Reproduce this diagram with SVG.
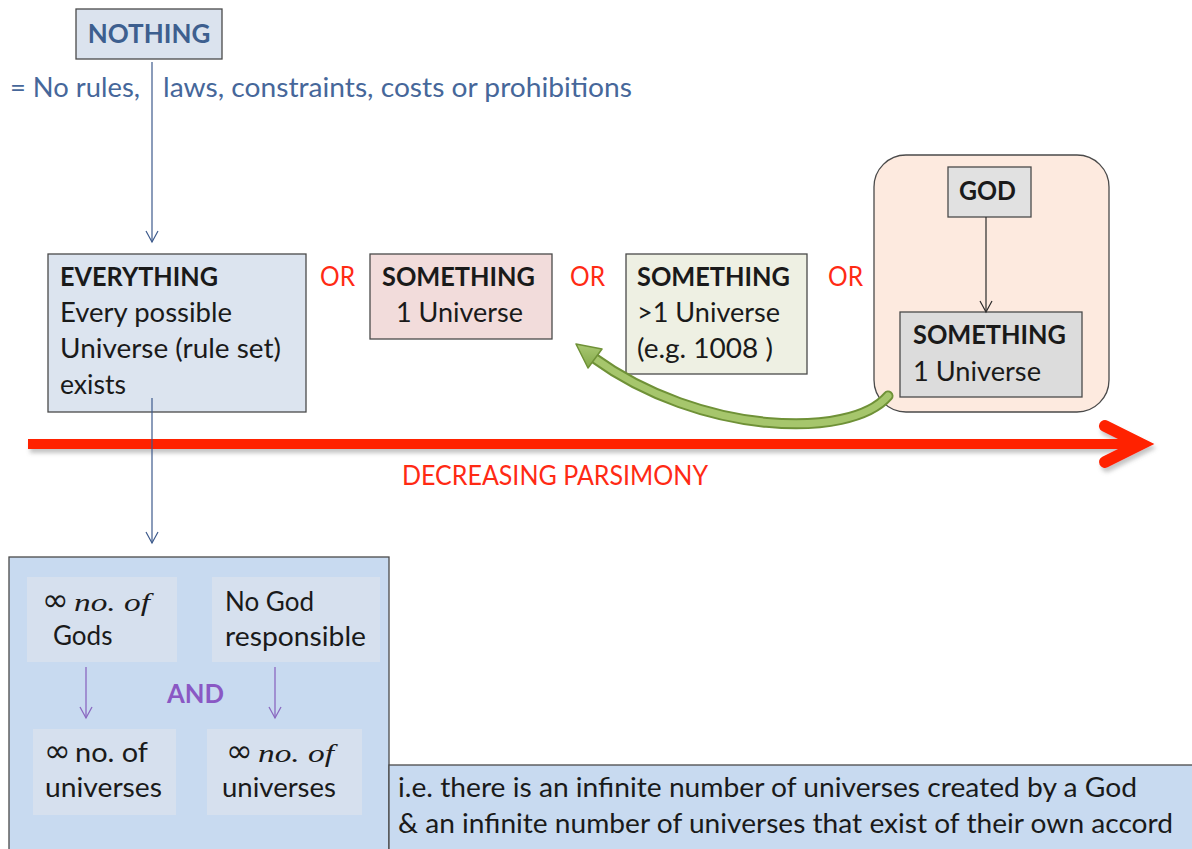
<svg xmlns="http://www.w3.org/2000/svg" width="1192" height="849" viewBox="0 0 1192 849">
  <defs>
    <style>
      .t { font-family: Lato, "Liberation Sans", sans-serif; font-size: 26px; fill: #1a1a1a; }
      .b { font-weight: bold; }
      .blue { fill: #46679a; }
      .red { fill: #ff2a14; }
      .purple { fill: #8a58c4; font-weight: bold; }
      .m { font-family: "Liberation Serif", "DejaVu Serif", serif; font-style: italic; }
      .inf { font-family: "DejaVu Sans", sans-serif; font-size: 32px; }
      .box { stroke: #4a4a4a; stroke-width: 1.3; }
      .conn { stroke: #3d5a8c; stroke-width: 1.2; fill: none; }
      .pconn { stroke: #8a68c0; stroke-width: 1.3; fill: none; }
      .kconn { stroke: #2a2a2a; stroke-width: 1.2; fill: none; }
    </style>
    <filter id="shadow" x="-5%" y="-50%" width="110%" height="200%">
      <feDropShadow dx="2" dy="4" stdDeviation="2.2" flood-color="#7a7a7a" flood-opacity="0.45"/>
    </filter>
    <linearGradient id="green" x1="0" y1="0" x2="0" y2="1">
      <stop offset="0" stop-color="#a9c872"/>
      <stop offset="1" stop-color="#84a94a"/>
    </linearGradient>
  </defs>

  <!-- Red parsimony arrow -->
  <g id="parsimony-arrow" filter="url(#shadow)">
    <line x1="28" y1="444" x2="1136" y2="444" stroke="#ff2200" stroke-width="10"/>
    <polyline points="1105,426 1141,444 1105,462" fill="none" stroke="#ff2200" stroke-width="12" stroke-linecap="round" stroke-linejoin="miter"/>
  </g>
  <text class="t red" x="402" y="485" font-size="25" textLength="306" lengthAdjust="spacingAndGlyphs">DECREASING PARSIMONY</text>

  <!-- NOTHING -->
  <g id="nothing">
    <rect class="box" x="76" y="9" width="146" height="50" fill="#dbe3ee"/>
    <text class="t b" x="149" y="43" text-anchor="middle" style="fill:#3d5f8f" font-size="25">NOTHING</text>
  </g>
  <g id="nothing-desc">
    <text class="t blue" x="10" y="97" textLength="130" lengthAdjust="spacingAndGlyphs">= No rules,</text>
    <text class="t blue" x="163" y="97" textLength="469" lengthAdjust="spacingAndGlyphs">laws, constraints, costs or prohibitions</text>
  </g>

  <!-- EVERYTHING -->
  <g id="everything">
    <rect class="box" x="48" y="254" width="258" height="158" fill="#dce4ef"/>
    <text class="t b" x="60" y="286" textLength="158" lengthAdjust="spacingAndGlyphs">EVERYTHING</text>
    <text class="t" x="60" y="322" textLength="172" lengthAdjust="spacingAndGlyphs">Every possible</text>
    <text class="t" x="60" y="358" textLength="221" lengthAdjust="spacingAndGlyphs">Universe (rule set)</text>
    <text class="t" x="60" y="394" textLength="66" lengthAdjust="spacingAndGlyphs">exists</text>
  </g>

  <g id="or-labels">
    <text class="t red" x="320" y="286" textLength="35" lengthAdjust="spacingAndGlyphs">OR</text>
    <text class="t red" x="570" y="286" textLength="35" lengthAdjust="spacingAndGlyphs">OR</text>
    <text class="t red" x="828" y="286" textLength="35" lengthAdjust="spacingAndGlyphs">OR</text>
  </g>

  <!-- SOMETHING 1 Universe -->
  <g id="something-one">
    <rect class="box" x="370" y="254" width="182" height="85" fill="#f2dcdb"/>
    <text class="t b" x="382" y="286" textLength="153" lengthAdjust="spacingAndGlyphs">SOMETHING</text>
    <text class="t" x="396" y="322" textLength="127" lengthAdjust="spacingAndGlyphs">1 Universe</text>
  </g>

  <!-- SOMETHING >1 Universe -->
  <g id="something-many">
    <rect class="box" x="626" y="254" width="181" height="120" fill="#eef0e3"/>
    <text class="t b" x="637" y="286" textLength="153" lengthAdjust="spacingAndGlyphs">SOMETHING</text>
    <text class="t" x="637" y="322" textLength="143" lengthAdjust="spacingAndGlyphs">&gt;1 Universe</text>
    <text class="t" x="637" y="358" textLength="136" lengthAdjust="spacingAndGlyphs">(e.g. 1008 )</text>
  </g>

  <!-- GOD group -->
  <g id="god-group">
    <rect class="box" x="874" y="155" width="235" height="257" rx="32" ry="32" fill="#fdeadf"/>
  </g>
  <g id="god">
    <rect class="box" x="948" y="167" width="83" height="50" fill="#e1e1e1"/>
    <text class="t b" x="959" y="200" textLength="57" lengthAdjust="spacingAndGlyphs">GOD</text>
  </g>
  <g id="something-god">
    <rect class="box" x="900" y="312" width="182" height="85" fill="#dcdcdc"/>
    <text class="t b" x="913" y="344" textLength="153" lengthAdjust="spacingAndGlyphs">SOMETHING</text>
    <text class="t" x="913" y="381" textLength="128" lengthAdjust="spacingAndGlyphs">1 Universe</text>
  </g>

  <!-- Bottom left block -->
  <g id="infinite-block">
    <rect class="box" x="9" y="557" width="380" height="300" fill="#c8daf0"/>
  </g>
  <g id="inf-gods">
    <rect x="27" y="577" width="150" height="85" fill="#d6e0ee"/>
    <text class="t inf" x="42" y="611">∞</text>
    <text class="t m" x="74" y="611" font-size="29" textLength="76" lengthAdjust="spacingAndGlyphs">no. of</text>
    <text class="t" x="53" y="645">Gods</text>
  </g>
  <g id="no-god">
    <rect x="212" y="577" width="168" height="85" fill="#d6e0ee"/>
    <text class="t" x="225" y="611">No God</text>
    <text class="t" x="225" y="646" textLength="141" lengthAdjust="spacingAndGlyphs">responsible</text>
  </g>
  <g id="inf-universes-1">
    <rect x="33" y="729" width="143" height="86" fill="#d6e0ee"/>
    <text class="t inf" x="44" y="762">∞</text>
    <text class="t" x="75" y="762" textLength="73" lengthAdjust="spacingAndGlyphs">no. of</text>
    <text class="t" x="45" y="797" textLength="117" lengthAdjust="spacingAndGlyphs">universes</text>
  </g>
  <g id="inf-universes-2">
    <rect x="207" y="729" width="155" height="86" fill="#d6e0ee"/>
    <text class="t inf" x="226" y="762">∞</text>
    <text class="t m" x="258" y="762" font-size="29" textLength="76" lengthAdjust="spacingAndGlyphs">no. of</text>
    <text class="t" x="222" y="797" textLength="114" lengthAdjust="spacingAndGlyphs">universes</text>
  </g>
  <text id="and-label" class="t purple" x="167" y="703" textLength="57" lengthAdjust="spacingAndGlyphs">AND</text>

  <!-- Explanation box -->
  <g id="explanation">
    <rect class="box" x="389" y="765" width="810" height="100" fill="#c8daf0"/>
    <text class="t" x="398" y="797" textLength="739" lengthAdjust="spacingAndGlyphs">i.e. there is an infinite number of universes created by a God</text>
    <text class="t" x="398" y="833" textLength="775" lengthAdjust="spacingAndGlyphs">&amp; an infinite number of universes that exist of their own accord</text>
  </g>

  <!-- Connectors -->
  <g id="connectors">
    <line class="conn" x1="152" y1="62" x2="152" y2="242"/>
    <path class="conn" d="M146 231 L152 242 L158 231"/>
    <line class="conn" x1="152" y1="398" x2="152" y2="543"/>
    <path class="conn" d="M146 532 L152 543 L158 532"/>
    <line class="kconn" x1="986" y1="217" x2="986" y2="311"/>
    <path class="kconn" d="M980 301 L986 312 L992 301"/>
    <line class="pconn" x1="86" y1="667" x2="86" y2="718"/>
    <path class="pconn" d="M80 707 L86 718 L92 707"/>
    <line class="pconn" x1="275" y1="667" x2="275" y2="718"/>
    <path class="pconn" d="M269 707 L275 718 L281 707"/>
    <g id="green-arrow">
      <path d="M888 396 C 850 440, 700 435, 594 358" fill="none" stroke="#6f9137" stroke-width="11" stroke-linecap="round"/>
      <path d="M888 396 C 850 440, 700 435, 594 358" fill="none" stroke="#a6c66c" stroke-width="7" stroke-linecap="round"/>
      <polygon points="576,344 602,349 588,368" fill="url(#green)" stroke="#6f9137" stroke-width="1.5" stroke-linejoin="round"/>
    </g>
  </g>
</svg>
